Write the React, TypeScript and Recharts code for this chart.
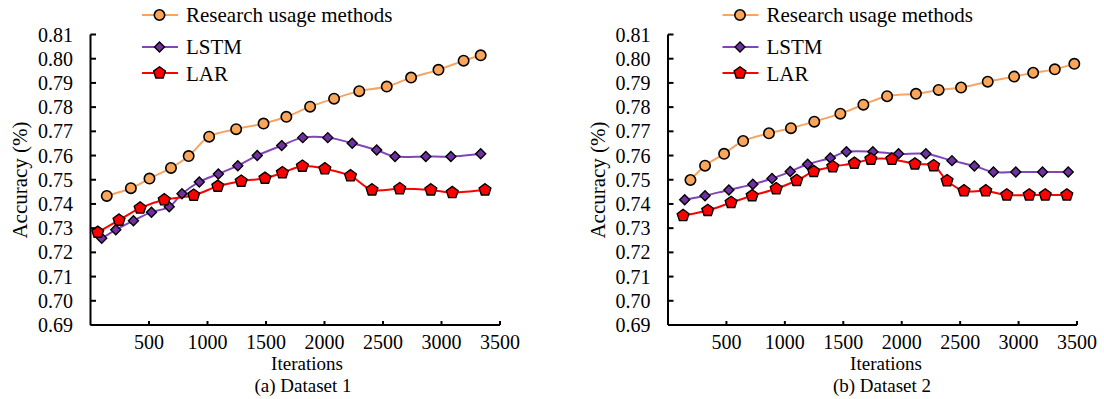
import { LineChart, Line, XAxis, YAxis, Legend, Label } from "recharts";

const FONT = '"Liberation Serif", "Times New Roman", serif';

const xTicks = [500, 1000, 1500, 2000, 2500, 3000, 3500];
const yTicks = [0.69, 0.7, 0.71, 0.72, 0.73, 0.74, 0.75, 0.76, 0.77, 0.78, 0.79, 0.8, 0.81];
const seriesNames = ["Research usage methods", "LSTM", "LAR"];

// Dataset 1
const d1OursX = [139, 345, 504, 688, 839, 1014, 1245, 1479, 1674, 1877, 2082, 2297, 2532, 2740, 2974, 3189, 3335];
const d1OursY = [0.7433, 0.7465, 0.7505, 0.7549, 0.7598, 0.7678, 0.7709, 0.7732, 0.776, 0.7802, 0.7835, 0.7866, 0.7885, 0.7922, 0.7954, 0.7992, 0.8014];
const d1LstmX = [96, 216, 367, 521, 673, 782, 930, 1093, 1259, 1425, 1634, 1814, 2028, 2237, 2446, 2603, 2866, 3080, 3335];
const d1LstmY = [0.7258, 0.7293, 0.7331, 0.7366, 0.7388, 0.7442, 0.7491, 0.7524, 0.7558, 0.76, 0.7641, 0.7674, 0.7674, 0.7651, 0.7623, 0.7596, 0.7596, 0.7596, 0.7607];
const d1LarX = [62, 244, 424, 630, 882, 1088, 1288, 1491, 1640, 1811, 2003, 2222, 2406, 2643, 2909, 3092, 3372];
const d1LarY = [0.7283, 0.7333, 0.7383, 0.7417, 0.7436, 0.7473, 0.7494, 0.7506, 0.7529, 0.7556, 0.7545, 0.7516, 0.7458, 0.7463, 0.7458, 0.7447, 0.7458];

// Dataset 2
const d2OursX = [192, 317, 480, 643, 864, 1052, 1252, 1475, 1672, 1875, 2122, 2316, 2508, 2736, 2962, 3125, 3310, 3477];
const d2OursY = [0.7499, 0.7558, 0.7607, 0.766, 0.7692, 0.7713, 0.774, 0.7773, 0.781, 0.7845, 0.7855, 0.7871, 0.7881, 0.7905, 0.7926, 0.7942, 0.7956, 0.7979];
const d2LstmX = [143, 317, 521, 726, 890, 1046, 1195, 1389, 1527, 1753, 1973, 2207, 2430, 2622, 2785, 2976, 3205, 3425];
const d2LstmY = [0.7417, 0.7434, 0.7458, 0.7481, 0.7505, 0.7534, 0.7564, 0.759, 0.7616, 0.7616, 0.7607, 0.7607, 0.7579, 0.7557, 0.7532, 0.7532, 0.7532, 0.7532];
const d2LarX = [129, 340, 540, 720, 926, 1101, 1247, 1410, 1595, 1736, 1916, 2113, 2273, 2388, 2533, 2719, 2899, 3091, 3228, 3413];
const d2LarY = [0.7352, 0.7373, 0.7406, 0.7434, 0.7463, 0.7497, 0.7534, 0.7554, 0.7568, 0.7585, 0.7585, 0.7565, 0.7558, 0.7496, 0.7454, 0.7454, 0.7437, 0.7437, 0.7437, 0.7437];

const toPoints = (xs: number[], ys: number[]) => xs.map((x, i) => ({ x, y: ys[i] }));

const ORANGE = "#F9A65A";
const ORANGE_LINE = "#F7A462";
const PURPLE = "#7030A0";
const PURPLE_LINE = "#8244B8";
const RED = "#FF0000";

// Excel-like smoothed line (uniform Catmull-Rom)
const smoothCurve = (context: any) => {
  let pts: number[][] = [];
  return {
    areaStart() {},
    areaEnd() {},
    lineStart() {
      pts = [];
    },
    point(x: number, y: number) {
      pts.push([+x, +y]);
    },
    lineEnd() {
      if (!pts.length) return;
      context.moveTo(pts[0][0], pts[0][1]);
      const k = 1 / 6;
      for (let i = 0; i < pts.length - 1; i++) {
        const p0 = pts[i - 1] || pts[i];
        const p1 = pts[i];
        const p2 = pts[i + 1];
        const p3 = pts[i + 2] || p2;
        context.bezierCurveTo(
          p1[0] + (p2[0] - p0[0]) * k,
          p1[1] + (p2[1] - p0[1]) * k,
          p2[0] - (p3[0] - p1[0]) * k,
          p2[1] - (p3[1] - p1[1]) * k,
          p2[0],
          p2[1]
        );
      }
    },
  };
};

const Marker = ({ kind, cx, cy }: { kind: string; cx: number; cy: number }) => {
  if (kind === "circle") {
    return <circle cx={cx} cy={cy} r={5.2} fill={ORANGE} stroke="#000" strokeWidth={1.6} />;
  }
  if (kind === "diamond") {
    const h = 5;
    return (
      <polygon
        points={`${cx},${cy - h} ${cx + h},${cy} ${cx},${cy + h} ${cx - h},${cy}`}
        fill={PURPLE}
        stroke="#000"
        strokeWidth={1.4}
      />
    );
  }
  const r = 6.2;
  const pts = [0, 1, 2, 3, 4]
    .map((k) => {
      const a = ((-90 + 72 * k) * Math.PI) / 180;
      return `${cx + r * Math.cos(a)},${cy + r * Math.sin(a)}`;
    })
    .join(" ");
  return <polygon points={pts} fill={RED} stroke="#000" strokeWidth={1.4} />;
};

const makeDot = (kind: string) => (props: any) =>
  <Marker key={`${kind}-${props.index}`} kind={kind} cx={props.cx} cy={props.cy} />;

const textStyle = { fontFamily: FONT };

const YTick = ({ x, y, payload }: any) => (
  <g>
    <line x1={x + 17.5} x2={x + 23} y1={y} y2={y} stroke="#000" strokeWidth={2} />
    <text x={x} y={y + 7} textAnchor="end" fontSize={20} fill="#000" style={textStyle}>
      {payload.value.toFixed(2)}
    </text>
  </g>
);

const XTick = ({ x, y, payload }: any) => (
  <g>
    <line x1={x} x2={x} y1={y} y2={y - 4} stroke="#000" strokeWidth={2} />
    <text x={x} y={y + 24} textAnchor="middle" fontSize={20} fill="#000" style={textStyle}>
      {payload.value}
    </text>
  </g>
);

type ChartProps = {
  ours: { x: number; y: number }[];
  lstm: { x: number; y: number }[];
  lar: { x: number; y: number }[];
  plotLeft: number;
  plotRight: number;
  legendX: number;
  yLabelX: number;
  titleX: number;
  captionX: number;
  caption: string;
};

function AccuracyChart(p: ChartProps) {
  const legendRows = [
    { kind: "circle", color: ORANGE_LINE, y: 15, base: 22 },
    { kind: "diamond", color: PURPLE_LINE, y: 47, base: 53.5 },
    { kind: "pentagon", color: RED, y: 73, base: 80.5 },
  ];

  const renderLegend = () => (
    <svg width={552} height={90} style={{ display: "block" }}>
      {legendRows.map((row, i) => (
        <g key={seriesNames[i]}>
          <line x1={p.legendX} x2={p.legendX + 36} y1={row.y} y2={row.y} stroke={row.color} strokeWidth={2} />
          <Marker kind={row.kind} cx={p.legendX + 17.5} cy={row.y} />
          <text x={p.legendX + 44} y={row.base} fontSize={21} fill="#000" style={textStyle}>
            {seriesNames[i]}
          </text>
        </g>
      ))}
    </svg>
  );

  return (
    <LineChart
      width={552}
      height={399}
      margin={{ top: 34.5, right: 552 - p.plotRight, bottom: 44, left: 0 }}
    >
      <XAxis
        type="number"
        dataKey="x"
        domain={[0, 3500]}
        ticks={xTicks}
        height={30}
        axisLine={{ stroke: "#000", strokeWidth: 2 }}
        tickLine={false}
        tickSize={0}
        tickMargin={0}
        tick={<XTick />}
        allowDuplicatedCategory={false}
      >
        <Label
          content={() => (
            <g fontSize={19} fill="#000" style={textStyle}>
              <text x={p.titleX} y={370} textAnchor="middle">
                Iterations
              </text>
              <text x={p.captionX} y={391.5} textAnchor="middle">
                {p.caption}
              </text>
            </g>
          )}
        />
      </XAxis>
      <YAxis
        type="number"
        domain={[0.69, 0.81]}
        ticks={yTicks}
        width={p.plotLeft}
        axisLine={{ stroke: "#000", strokeWidth: 2 }}
        tickLine={false}
        tickSize={0}
        tickMargin={17.5}
        tick={<YTick />}
      >
        <Label
          content={() => (
            <text
              x={p.yLabelX}
              y={180}
              transform={`rotate(-90 ${p.yLabelX} 180)`}
              textAnchor="middle"
              dominantBaseline="central"
              fontSize={21}
              fill="#000"
              style={textStyle}
            >
              Accuracy (%)
            </text>
          )}
        />
      </YAxis>
      <Legend
        layout="vertical"
        align="center"
        verticalAlign="middle"
        wrapperStyle={{ top: 0, left: 0, width: 552, height: 90 }}
        content={renderLegend}
      />
      <Line
        data={p.ours}
        dataKey="y"
        name={seriesNames[0]}
        type={smoothCurve as any}
        stroke={ORANGE_LINE}
        strokeWidth={2}
        dot={makeDot("circle")}
        activeDot={false}
        isAnimationActive={false}
      />
      <Line
        data={p.lstm}
        dataKey="y"
        name={seriesNames[1]}
        type={smoothCurve as any}
        stroke={PURPLE_LINE}
        strokeWidth={2}
        dot={makeDot("diamond")}
        activeDot={false}
        isAnimationActive={false}
      />
      <Line
        data={p.lar}
        dataKey="y"
        name={seriesNames[2]}
        type={smoothCurve as any}
        stroke={RED}
        strokeWidth={2}
        dot={makeDot("pentagon")}
        activeDot={false}
        isAnimationActive={false}
      />
    </LineChart>
  );
}

export default function App() {
  return (
    <div style={{ position: "absolute", left: 0, top: 0, width: 1104, height: 399, background: "#fff", display: "flex" }}>
      <AccuracyChart
        ours={toPoints(d1OursX, d1OursY)}
        lstm={toPoints(d1LstmX, d1LstmY)}
        lar={toPoints(d1LarX, d1LarY)}
        plotLeft={90.5}
        plotRight={500}
        legendX={142}
        yLabelX={20}
        titleX={307}
        captionX={303}
        caption="(a) Dataset 1"
      />
      <AccuracyChart
        ours={toPoints(d2OursX, d2OursY)}
        lstm={toPoints(d2LstmX, d2LstmY)}
        lar={toPoints(d2LarX, d2LarY)}
        plotLeft={116}
        plotRight={525}
        legendX={170.5}
        yLabelX={46}
        titleX={334}
        captionX={330}
        caption="(b) Dataset 2"
      />
    </div>
  );
}
